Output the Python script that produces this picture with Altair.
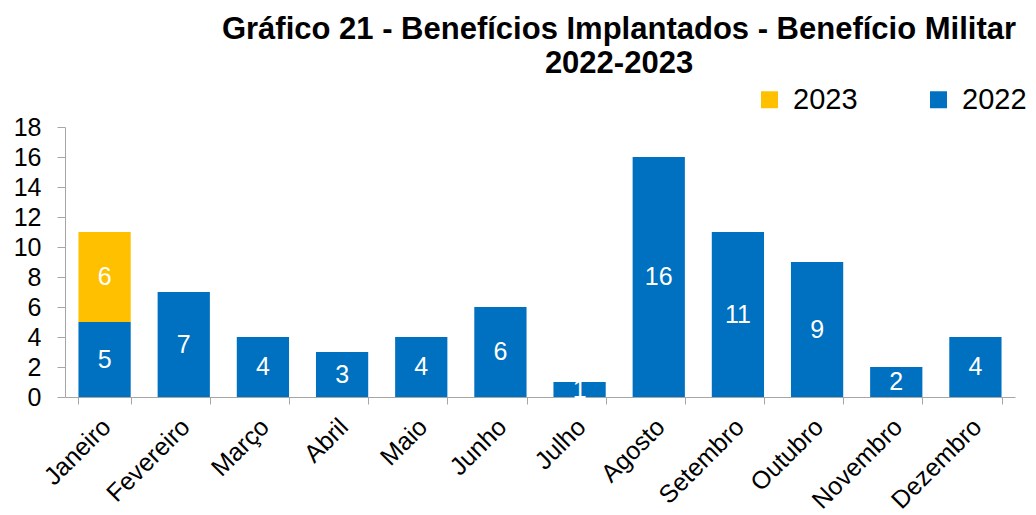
import altair as alt
import pandas as pd

months = ["Janeiro", "Fevereiro", "Março", "Abril", "Maio", "Junho",
          "Julho", "Agosto", "Setembro", "Outubro", "Novembro", "Dezembro"]
v2022 = [5, 7, 4, 3, 4, 6, 1, 16, 11, 9, 2, 4]
v2023 = [6, 0, 0, 0, 0, 0, 0, 0, 0, 0, 0, 0]
series = ["2023", "2022"]
colors = ["#FFC000", "#0070C0"]
y_ticks = [0, 2, 4, 6, 8, 10, 12, 14, 16, 18]

rows = []
for m, a in zip(months, v2022):
    rows.append({"month": m, "ano": "2022", "value": a, "ord": 0})
for m, b in zip(months, v2023):
    if b > 0:
        rows.append({"month": m, "ano": "2023", "value": b, "ord": 1})
df = pd.DataFrame(rows)

FONT = "Liberation Sans"

base = alt.Chart(df).transform_stack(
    stack="value", groupby=["month"], as_=["y0", "y1"],
    sort=[alt.SortField("ord", order="ascending")]
).transform_calculate(mid="(datum.y0 + datum.y1) / 2")

x_axis = alt.Axis(labelAngle=-45, tickBand="extent", labelFontSize=25,
                  labelFont=FONT, labelColor="black", domainColor="#A6A6A6",
                  tickColor="#A6A6A6", tickSize=7, labelPadding=10,
                  labelOffset=-7, labelOverlap=False, grid=False, title=None)
y_axis = alt.Axis(values=y_ticks, labelFontSize=25, labelFont=FONT,
                  labelColor="black", domainColor="#A6A6A6",
                  tickColor="#A6A6A6", tickSize=8, labelPadding=16,
                  labelOverlap=False, grid=False, title=None)
x_scale = alt.Scale(paddingInner=0.34, paddingOuter=0.17)
y_scale = alt.Scale(domain=[0, 18], nice=False)

bars = base.mark_bar(strokeWidth=0).encode(
    x=alt.X("month:N", sort=months, scale=x_scale, axis=x_axis),
    y=alt.Y("y1:Q", scale=y_scale, axis=y_axis),
    y2="y0:Q",
    color=alt.Color("ano:N", scale=alt.Scale(domain=series, range=colors),
                    legend=alt.Legend(title=None, orient="none", direction="horizontal",
                                      legendX=690, legendY=-42, symbolType="square",
                                      symbolSize=289, symbolStrokeWidth=0,
                                      labelFontSize=29, labelFont=FONT,
                                      labelColor="black", labelOffset=9,
                                      columnPadding=66, padding=0)),
)

labels = base.mark_text(color="white", fontSize=25, font=FONT, baseline="middle").encode(
    x=alt.X("month:N", sort=months, scale=x_scale, axis=x_axis),
    y=alt.Y("mid:Q", scale=y_scale, axis=y_axis),
    text=alt.Text("value:Q"),
)

chart = alt.layer(bars, labels).properties(
    width=950, height=270,
    title=alt.TitleParams(
        text=["Gráfico 21 - Benefícios Implantados - Benefício Militar", "2022-2023"],
        fontSize=31, fontWeight="bold", font=FONT, color="black",
        anchor="middle", frame="group", dx=79, lineHeight=34, offset=5),
    autosize=alt.AutoSizeParams(type="none"),
    padding={"left": 57, "top": 119, "right": 12, "bottom": 118},
    background="white",
).configure_view(stroke=None)

chart.save("out.html", embed_options={"renderer": "svg", "actions": False})
